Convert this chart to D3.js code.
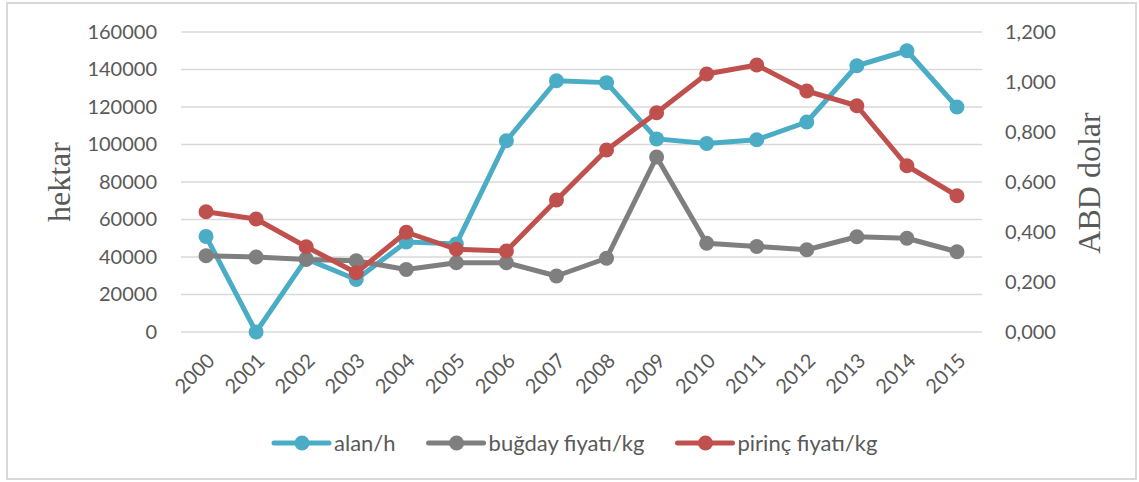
<!DOCTYPE html>
<html>
<head>
<meta charset="utf-8">
<script src="https://cdnjs.cloudflare.com/ajax/libs/d3/7.8.5/d3.min.js"></script>
<style>
  body { margin: 0; background: #fff; }
  svg text { font-family: Lato, "Open Sans", sans-serif; fill: #595959; }
  .title { font-family: "Liberation Serif", "DejaVu Serif", serif; }
</style>
</head>
<body>
<svg></svg>
<script>
// data
var years = ['2000', '2001', '2002', '2003', '2004', '2005', '2006', '2007',
  '2008', '2009', '2010', '2011', '2012', '2013', '2014', '2015'];
var alan = [51000, 0, 39000, 28000, 48000, 47000, 102000, 134000,
  133000, 103000, 100500, 102500, 112000, 142000, 150000, 120000];
var bugday = [0.305, 0.300, 0.290, 0.285, 0.250, 0.277, 0.277, 0.224,
  0.295, 0.700, 0.355, 0.342, 0.329, 0.381, 0.375, 0.321];
var pirinc = [0.481, 0.452, 0.341, 0.237, 0.399, 0.331, 0.324, 0.528,
  0.728, 0.877, 1.032, 1.068, 0.964, 0.905, 0.665, 0.545];
var leftTicks = [0, 20000, 40000, 60000, 80000, 100000, 120000, 140000, 160000];
var rightTicks = [0, 0.2, 0.4, 0.6, 0.8, 1.0, 1.2];

var width = 1139;
var height = 482;

var svg = d3.select('svg')
  .attr('width', width)
  .attr('height', height);

// outer chart frame
svg.append('rect')
  .attr('x', 7).attr('y', 3)
  .attr('width', 1129).attr('height', 476)
  .attr('fill', '#fff')
  .attr('stroke', '#d9d9d9')
  .attr('stroke-width', 2);

var x = d3.scaleBand()
  .domain(years)
  .range([181, 982]);

var yLeft = d3.scaleLinear()
  .domain([0, 160000])
  .range([332, 32]);

var yRight = d3.scaleLinear()
  .domain([0, 1.2])
  .range([332, 32]);

// gridlines
svg.append('g')
  .selectAll('line')
  .data(leftTicks)
  .enter().append('line')
    .attr('x1', 181)
    .attr('x2', 982)
    .attr('y1', function (d) { return yLeft(d); })
    .attr('y2', function (d) { return yLeft(d); })
    .attr('stroke', '#d9d9d9')
    .attr('stroke-width', 1.5);

var leftAxis = svg.append('g')
  .attr('transform', 'translate(157,0)')
  .call(d3.axisLeft(yLeft).tickValues(leftTicks).tickSize(0).tickPadding(0)
    .tickFormat(d3.format('d')));

var rightAxis = svg.append('g')
  .attr('transform', 'translate(1005,0)')
  .call(d3.axisRight(yRight).tickValues(rightTicks).tickSize(0).tickPadding(0)
    .tickFormat(function (d) { return d3.format('.3f')(d).replace('.', ','); }));

var xAxis = svg.append('g')
  .attr('transform', 'translate(0,332)')
  .call(d3.axisBottom(x).tickSize(0));

[leftAxis, rightAxis, xAxis].forEach(function (g) {
  g.select('.domain').remove();
  g.selectAll('text')
    .style('font-size', '20px')
    .attr('fill', '#595959');
});

xAxis.selectAll('text')
  .attr('text-anchor', 'end')
  .attr('dy', '0.35em')
  .attr('transform', 'translate(5,25) rotate(-45)')
  .attr('y', 0)
  .attr('x', 0);

// axis titles
svg.append('text')
  .attr('class', 'title')
  .attr('transform', 'translate(70,182) rotate(-90)')
  .attr('text-anchor', 'middle')
  .style('font-size', '32px')
  .text('hektar');

svg.append('text')
  .attr('class', 'title')
  .attr('transform', 'translate(1100,183) rotate(-90)')
  .attr('text-anchor', 'middle')
  .style('font-size', '32px')
  .text('ABD dolar');

var series = [
  { name: 'alan/h', values: alan, scale: yLeft, color: '#4bacc6' },
  { name: 'buğday fiyatı/kg', values: bugday, scale: yRight, color: '#7f7f7f' },
  { name: 'pirinç fiyatı/kg', values: pirinc, scale: yRight, color: '#c0504d' }
];

var cx = function (i) { return x(years[i]) + x.bandwidth() / 2; };

series.forEach(function (s) {
  var line = d3.line()
    .x(function (d, i) { return cx(i); })
    .y(function (d) { return s.scale(d); });

  svg.append('path')
    .datum(s.values)
    .attr('d', line)
    .attr('fill', 'none')
    .attr('stroke', s.color)
    .attr('stroke-width', 5)
    .attr('stroke-linejoin', 'round');

  svg.append('g')
    .selectAll('circle')
    .data(s.values)
    .enter().append('circle')
      .attr('cx', function (d, i) { return cx(i); })
      .attr('cy', function (d) { return s.scale(d); })
      .attr('r', 7.5)
      .attr('fill', s.color);
});

// legend
var lx = 274;
series.forEach(function (s) {
  var g = svg.append('g').attr('transform', 'translate(' + lx + ',443)');
  g.append('line')
    .attr('x1', 0).attr('x2', 55)
    .attr('stroke', s.color)
    .attr('stroke-width', 5)
    .attr('stroke-linecap', 'round');
  g.append('circle')
    .attr('cx', 28).attr('r', 7.5)
    .attr('fill', s.color);
  var t = g.append('text')
    .attr('x', 60)
    .attr('dy', '0.35em')
    .style('font-size', '22px')
    .text(s.name);
  lx += 60 + t.node().getComputedTextLength() + 33;
});
</script>
</body>
</html>
